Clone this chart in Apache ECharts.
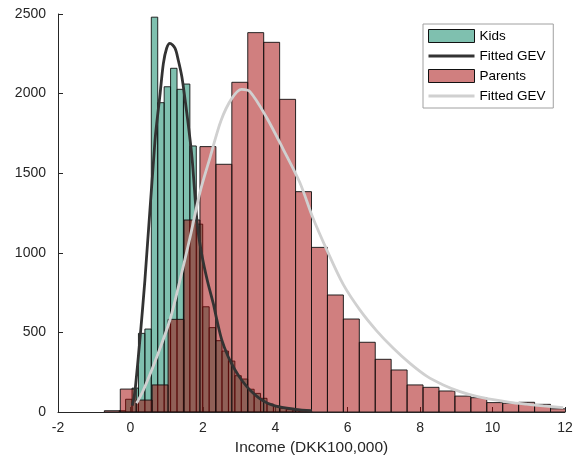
<!DOCTYPE html>
<html>
<head>
<meta charset="utf-8">
<script src="https://cdn.jsdelivr.net/npm/echarts@6/dist/echarts.min.js"></script>
<style>
html,body{margin:0;padding:0;background:#fff;}
#chart{width:582px;height:465px;}
</style>
</head>
<body>
<div id="chart"></div>
<script>
// ---- Data ----
// Kids histogram: bins start at kidsBinStart, each kidsBinWidth wide
const kidsBinStart = -0.311;
const kidsBinWidth = 0.1775;
const kidsCounts = [8, 80, 150, 494, 521, 2480, 1943, 2043, 2159, 2027, 2060, 1671, 1180,
  661, 530, 448, 383, 320, 228, 207, 143, 117, 86, 50, 38, 23, 15, 10, 6, 3];

// Parents histogram
const parentsBinStart = -0.72;
const parentsBinWidth = 0.44;
const parentsCounts = [8, 144, 75, 170, 582, 1206, 1667, 1556, 2071, 2383, 2322, 1964, 1384,
  1034, 735, 584, 438, 331, 264, 170, 155, 132, 100, 90, 59, 55, 61, 48, 20];

// Fitted GEV curve for kids (x, count)
const kidsGevX = [0.05, 0.13, 0.40, 0.68, 0.82, 0.91, 1.00, 1.09, 1.23, 1.32, 1.42, 1.51, 1.60,
  1.70, 1.85, 1.97, 2.13, 2.29, 2.38, 2.52, 2.70, 2.89, 3.07, 3.30, 3.63, 3.99, 4.55, 5.01];
const kidsGevY = [40, 138, 829, 1710, 2000, 2190, 2285, 2316, 2285, 2211, 2106, 1960, 1800,
  1600, 1170, 990, 820, 680, 585, 455, 347, 264, 201, 138, 75, 38, 17, 8];

// Fitted GEV curve for parents (x, count)
const parentsGevX = [0.17, 0.36, 0.73, 1.09, 1.37, 1.65, 1.92, 2.20, 2.50, 2.80, 3.07,
  3.30, 3.76, 4.22, 4.68, 5.03, 5.42, 5.88, 6.34, 6.80, 7.26, 7.72, 8.18, 8.64, 9.10, 9.56,
  10.02, 10.48, 10.94, 11.40, 11.95];
const parentsGevY = [55, 138, 347, 578, 829, 1101, 1380, 1600, 1830, 1970, 2027,
  2012, 1850, 1650, 1440, 1225, 1020, 800, 640, 510, 400, 305, 225, 170, 128, 98,
  77, 61, 49, 38, 27];

// ---- Build chart ----
function histData(start, width, counts) {
  return counts.map(function (c, i) {
    return [start + i * width, start + (i + 1) * width, c];
  });
}
function pairs(xs, ys) { return xs.map(function (x, i) { return [x, ys[i]]; }); }

const KIDS_FILL = 'rgba(0,130,96,0.5)';
const PARENTS_FILL = 'rgba(162,0,0,0.5)';
// legend icon: a 3px horizontal bar inside a 46x13 box (tiny corner marks fix the bounding box)
const LINE_ICON = 'path://M0,0L0.01,0L0.01,0.01ZM0,5H46V8H0ZM46,13L45.99,13L45.99,12.99Z';

function makeRender(fill) {
  return function (params, api) {
    var x0 = api.value(0), x1 = api.value(1), v = api.value(2);
    var p0 = api.coord([x0, v]);
    var p1 = api.coord([x1, 0]);
    return {
      type: 'rect',
      shape: { x: p0[0], y: p0[1], width: p1[0] - p0[0], height: p1[1] - p0[1] },
      style: { fill: fill, stroke: '#111', lineWidth: 0.9 }
    };
  };
}

const chart = echarts.init(document.getElementById('chart'), null, { renderer: 'canvas' });
const axisColor = '#262626';
const font = '"Liberation Sans", Arial, Helvetica, sans-serif';

chart.setOption({
  animation: false,
  backgroundColor: '#fff',
  textStyle: { fontFamily: font },
  grid: { left: 58, right: 17, top: 14, bottom: 53, containLabel: false },
  xAxis: {
    type: 'value', min: -2, max: 12, interval: 2,
    name: 'Income (DKK100,000)', nameLocation: 'middle', nameGap: 28,
    nameTextStyle: { fontSize: 15.5, color: axisColor, fontFamily: font },
    axisLine: { show: true, onZero: false, lineStyle: { color: axisColor, width: 1 } },
    axisTick: { show: true, inside: true, length: 5, lineStyle: { color: axisColor } },
    axisLabel: { fontSize: 14, color: axisColor, margin: 9, fontFamily: font },
    splitLine: { show: false }
  },
  yAxis: {
    type: 'value', min: 0, max: 2500, interval: 500,
    axisLine: { show: true, onZero: false, lineStyle: { color: axisColor, width: 1 } },
    axisTick: { show: true, inside: true, length: 5, lineStyle: { color: axisColor } },
    axisLabel: { fontSize: 14, color: axisColor, margin: 12, fontFamily: font,
      formatter: function (v) { return String(v); } },
    splitLine: { show: false }
  },
  legend: {
    orient: 'vertical', left: 423, top: 24,
    backgroundColor: '#fff', borderColor: '#a0a0a0', borderWidth: 1,
    padding: [5, 4, 5, 5], itemGap: 6, itemWidth: 46, itemHeight: 13,
    textStyle: { fontSize: 13.5, color: '#000', fontFamily: font },
    data: [
      { name: 'Kids', icon: 'rect', itemStyle: { color: KIDS_FILL, borderColor: '#111', borderWidth: 1 } },
      { name: 'Fitted GEV', icon: LINE_ICON, itemStyle: { color: '#333333', borderWidth: 0 } },
      { name: 'Parents', icon: 'rect', itemStyle: { color: PARENTS_FILL, borderColor: '#111', borderWidth: 1 } },
      { name: 'Fitted GEV ', icon: LINE_ICON, itemStyle: { color: '#d0d0d0', borderWidth: 0 } }
    ]
  },
  series: [
    {
      name: 'Kids', type: 'custom', renderItem: makeRender(KIDS_FILL), clip: true,
      itemStyle: { color: KIDS_FILL, borderColor: '#111' },
      encode: { x: [0, 1], y: 2 },
      data: histData(kidsBinStart, kidsBinWidth, kidsCounts)
    },
    {
      name: 'Fitted GEV', type: 'line', smooth: 0.3, symbol: 'none', showSymbol: false,
      lineStyle: { color: '#333333', width: 2.8 }, itemStyle: { color: '#333333' },
      data: pairs(kidsGevX, kidsGevY)
    },
    {
      name: 'Parents', type: 'custom', renderItem: makeRender(PARENTS_FILL), clip: true,
      itemStyle: { color: PARENTS_FILL, borderColor: '#111' },
      encode: { x: [0, 1], y: 2 },
      data: histData(parentsBinStart, parentsBinWidth, parentsCounts)
    },
    {
      name: 'Fitted GEV ', type: 'line', smooth: 0.3, symbol: 'none', showSymbol: false,
      lineStyle: { color: '#d0d0d0', width: 2.8 }, itemStyle: { color: '#d0d0d0' },
      data: pairs(parentsGevX, parentsGevY)
    }
  ]
});
</script>
</body>
</html>
